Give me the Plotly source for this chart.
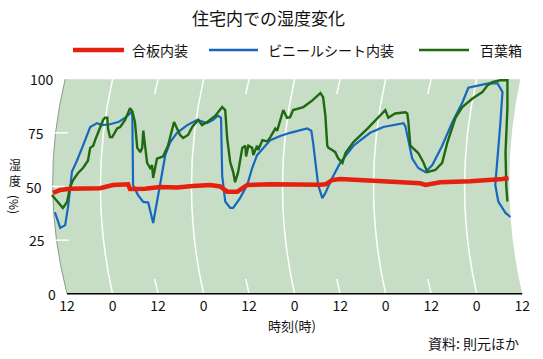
import plotly.graph_objects as go

# ---------------- data (hours from first noon, humidity %) ----------------
plywood = [(-3.7, 47), (-1.8, 48.4), (0.8, 49), (4.2, 49), (8.7, 49.2), (12.1, 50.7),
           (15.3, 51.2), (16.1, 51), (16.6, 48.8), (20.6, 49), (24.5, 49.8), (29.0, 49.5),
           (33.2, 50.2), (37.7, 50.7), (40.4, 50), (42.2, 47.6), (44.9, 47.6), (47.5, 50.7),
           (53.6, 51), (61.5, 50.7), (66.8, 50.8), (68.1, 51), (69.9, 53), (72.0, 53.5),
           (77.3, 53), (83.9, 52.3), (91.8, 52), (93.1, 51.5), (94.5, 50.7), (96.3, 51.5),
           (98.4, 52), (106.3, 52.5), (112.9, 53), (114.8, 53.5), (116.4, 54)]

vinyl = [(-3.2, 38), (-1.8, 30.7), (-0.5, 32), (0.3, 41), (1.3, 57), (2.6, 62), (4.2, 69),
         (6.1, 77.7), (7.9, 79.5), (9.2, 78.6), (11.3, 79), (13.5, 80), (15.3, 82), (16.6, 84),
         (17.2, 85), (17.4, 50.7), (18.7, 46), (20.1, 42.8), (21.4, 42.5), (22.7, 33),
         (23.7, 42), (24.5, 50.7), (25.9, 64.6), (27.2, 70.7), (29.0, 75), (31.7, 78.6),
         (34.3, 81), (36.9, 79.5), (38.5, 81), (39.8, 83), (40.6, 82), (40.9, 55), (41.7, 43),
         (43.0, 40), (43.8, 40), (45.6, 44.6), (47.5, 50.7), (48.8, 58.6), (50.1, 64.6),
         (51.7, 68), (53.6, 71.6), (56.2, 73.5), (58.8, 75), (63.3, 77), (64.4, 76),
         (64.9, 70), (65.4, 63), (66.2, 50.7), (67.3, 44.6), (68.1, 47), (69.9, 54),
         (72.0, 61), (75.5, 69), (79.9, 75), (83.4, 77.7), (87.9, 79.5), (88.7, 79.5),
         (89.2, 78), (90.0, 70.7), (91.0, 63), (92.6, 58.6), (94.5, 56.7), (96.3, 60),
         (98.9, 69), (101.6, 80), (104.2, 89), (105.8, 96), (108.4, 97), (111.1, 98),
         (113.5, 98), (114.8, 94), (114.2, 78.6), (113.5, 63), (112.9, 50.7), (113.7, 43),
         (115.6, 37.7), (116.9, 35.8)]

screen = [(-4.0, 46), (-2.6, 43), (-1.8, 41.4), (-1.1, 40), (0, 42.8), (0.8, 49.8), (1.6, 53),
          (2.9, 56.3), (4.2, 58.6), (5.5, 62), (6.1, 68), (6.9, 69), (7.4, 71.6), (8.7, 77),
          (9.5, 81), (10.0, 82), (10.6, 82), (10.8, 77), (11.3, 73), (11.9, 73), (13.2, 77),
          (14.0, 77.7), (15.3, 81), (16.6, 86.5), (17.2, 85), (17.9, 80), (18.5, 68),
          (19.3, 66), (19.8, 68), (20.1, 76), (20.6, 68), (21.1, 61), (21.9, 58.6),
          (22.4, 60), (22.7, 54), (23.7, 63), (25.3, 64), (26.6, 69), (28.2, 80), (29.8, 74),
          (30.6, 72.6), (31.9, 74), (33.0, 77.7), (34.6, 81), (35.6, 78.6), (36.9, 80),
          (39.1, 83), (40.9, 87), (41.7, 85.6), (42.2, 72.6), (43.0, 61.4), (43.8, 56.7),
          (44.3, 52), (45.1, 56.7), (46.2, 68), (47.0, 69), (47.2, 64), (47.8, 69),
          (48.8, 68), (49.1, 64.6), (50.1, 69), (50.4, 67), (51.5, 71.6), (52.8, 71),
          (53.6, 73), (54.9, 77), (55.4, 76), (56.7, 84), (57.0, 85.6), (58.0, 82),
          (58.8, 82.3), (59.6, 85.6), (62.3, 87), (64.6, 90), (66.8, 93.5), (67.5, 91.6),
          (68.1, 83), (68.6, 69), (68.9, 68), (69.9, 67), (70.7, 66), (71.5, 63), (72.6, 61),
          (73.4, 65.6), (75.5, 70.7), (79.2, 77), (81.8, 82), (83.9, 85.6), (84.7, 82),
          (86.5, 84), (89.2, 84.6), (89.7, 84), (90.0, 80), (90.5, 69), (92.6, 65.6),
          (93.9, 61.4), (95.0, 56.7), (97.1, 57.7), (98.9, 61), (100.3, 70.7), (102.4, 82),
          (104.2, 87), (106.9, 91), (108.4, 92.6), (109.5, 94), (110.8, 97), (112.1, 98.6),
          (114.2, 99.5), (116.1, 99.5), (116.1, 86.5), (115.6, 66), (115.8, 50), (116.1, 43)]

plywood_h, plywood_v = [p[0] for p in plywood], [p[1] for p in plywood]
vinyl_h, vinyl_v = [p[0] for p in vinyl], [p[1] for p in vinyl]
screen_h, screen_v = [p[0] for p in screen], [p[1] for p in screen]

series_names = ["合板内装", "ビニールシート内装", "百葉箱"]
series_colors = ["#e5200f", "#1668bf", "#1f6a10"]

x_tickvals = [0, 12, 24, 36, 48, 60, 72, 84, 96, 108, 120]
x_ticktext = ["12", "0", "12", "0", "12", "0", "12", "0", "12", "0", "12"]
y_tickvals = [0, 25, 50, 75, 100]

title_text = "住宅内での湿度変化"
x_title = "時刻(時)"
source_text = "資料: 則元ほか"

# ---------------- layout geometry ----------------
W, H = 543, 359
L, R, T, B = 50, 17, 77, 63
XR = [-4.5, 121]
YR = [-1, 101]
PW, PH = W - L - R, H - T - B
FONT = "Noto Sans CJK JP, Noto Sans, sans-serif"
BG = "#c7ddc5"

def pxx(px):
    return (px - L) / PW

def pxy(py):
    return 1 - (py - T) / PH

def hx(h):
    """data x -> paper x"""
    return (h - XR[0]) / (XR[1] - XR[0])

def vy(v):
    return (v - YR[0]) / (YR[1] - YR[0])

# edges of the curved sheet (quadratic bezier)
LX0, LX1, LX2 = -0.5, -7.35, 0.0
RX0, RX1, RX2 = 119.5, 113.45, 120.0

def left_edge(v):
    t = 1 - v / 100.0
    return (1 - t) ** 2 * LX0 + 2 * t * (1 - t) * LX1 + t ** 2 * LX2

fig = go.Figure()

for hs, vs, name, col, w in [
    (vinyl_h, vinyl_v, series_names[1], series_colors[1], 2.2),
    (screen_h, screen_v, series_names[2], series_colors[2], 2.4),
    (plywood_h, plywood_v, series_names[0], series_colors[0], 4.5),
]:
    fig.add_trace(go.Scatter(x=hs, y=vs, mode="lines", name=name,
                             line=dict(color=col, width=w), showlegend=False,
                             hoverinfo="skip", cliponaxis=False))

shapes = []
shapes.append(dict(type="path", xref="x", yref="y", layer="below",
                   path=f"M {LX0},100 Q {LX1},50 {LX2},0 L {RX2},0 Q {RX1},50 {RX0},100 Z",
                   fillcolor=BG, line=dict(width=0)))
shapes.append(dict(type="path", xref="x", yref="y", layer="below",
                   path=f"M {LX0},100 Q {LX1},50 {LX2},0",
                   line=dict(color="#8c9c88", width=1)))
for h in [12, 36, 60, 84, 108]:
    shapes.append(dict(type="path", xref="x", yref="y", layer="below",
                       path=f"M {h},100 Q {h-6.4},50 {h},0",
                       line=dict(color="white", width=1.5)))
for h in [24, 48, 72, 96]:
    shapes.append(dict(type="line", xref="x", yref="y", layer="below",
                       x0=h, y0=100, x1=h - 0.9, y1=93, line=dict(color="white", width=1.5)))
    shapes.append(dict(type="line", xref="x", yref="y", layer="below",
                       x0=h - 0.9, y0=7, x1=h, y1=0, line=dict(color="white", width=1.5)))
for v in [25, 50, 75]:
    e = left_edge(v)
    shapes.append(dict(type="line", xref="x", yref="y", layer="below",
                       x0=e - 0.4, y0=v, x1=e + 3.2, y1=v,
                       line=dict(color="white", width=1.5)))
shapes.append(dict(type="line", xref="x", yref="y", x0=0, y0=0, x1=120, y1=0,
                   line=dict(color="black", width=1.5)))

annotations = []
for v in y_tickvals:
    annotations.append(dict(x=hx(left_edge(v) - 2.4), y=vy(v), xref="paper", yref="paper",
                            text=str(v), showarrow=False, xanchor="right", yanchor="middle",
                            font=dict(family=FONT, size=14, color="#111")))
annotations.append(dict(x=pxx(15), y=pxy(172), xref="paper", yref="paper", text="湿<br>度",
                        showarrow=False, xanchor="center", yanchor="middle",
                        font=dict(family=FONT, size=12, color="#111")))
annotations.append(dict(x=pxx(15), y=pxy(204), xref="paper", yref="paper", text="(%)",
                        textangle=90, showarrow=False, xanchor="center", yanchor="middle",
                        font=dict(family=FONT, size=12, color="#111")))
annotations.append(dict(x=pxx(292), y=pxy(325), xref="paper", yref="paper", text=x_title,
                        showarrow=False, xanchor="center", yanchor="middle",
                        font=dict(family=FONT, size=13, color="#111")))
annotations.append(dict(x=pxx(521), y=pxy(343), xref="paper", yref="paper", text=source_text,
                        showarrow=False, xanchor="right", yanchor="middle",
                        font=dict(family=FONT, size=14, color="#111")))
annotations.append(dict(x=pxx(268), y=pxy(17), xref="paper", yref="paper", text=title_text,
                        showarrow=False, xanchor="center", yanchor="middle",
                        font=dict(family=FONT, size=17, color="#111")))
leg_y = 50
leg_items = [(73, 124, 130), (209, 258, 266), (419, 469, 478)]
leg_widths = [4.5, 2.6, 2.6]
for (x0, x1, tx), name, col, lw in zip(leg_items, series_names, series_colors, leg_widths):
    shapes.append(dict(type="line", xref="paper", yref="paper",
                       x0=pxx(x0), x1=pxx(x1), y0=pxy(leg_y), y1=pxy(leg_y),
                       line=dict(color=col, width=lw)))
    annotations.append(dict(x=pxx(tx), y=pxy(leg_y), xref="paper", yref="paper", text=name,
                            showarrow=False, xanchor="left", yanchor="middle",
                            font=dict(family=FONT, size=14, color="#111")))

fig.update_layout(
    width=W, height=H, autosize=False,
    margin=dict(l=L, r=R, t=T, b=B, pad=0),
    paper_bgcolor="white", plot_bgcolor="white",
    shapes=shapes, annotations=annotations,
    showlegend=False,
    xaxis=dict(range=XR, tickvals=x_tickvals, ticktext=x_ticktext, showgrid=False,
               zeroline=False, showline=False, ticks="", ticklen=0,
               tickfont=dict(family=FONT, size=14, color="#111"), fixedrange=True),
    yaxis=dict(range=YR, showgrid=False, zeroline=False, showline=False,
               showticklabels=False, ticks="", fixedrange=True),
)

fig.write_html("out.html")
